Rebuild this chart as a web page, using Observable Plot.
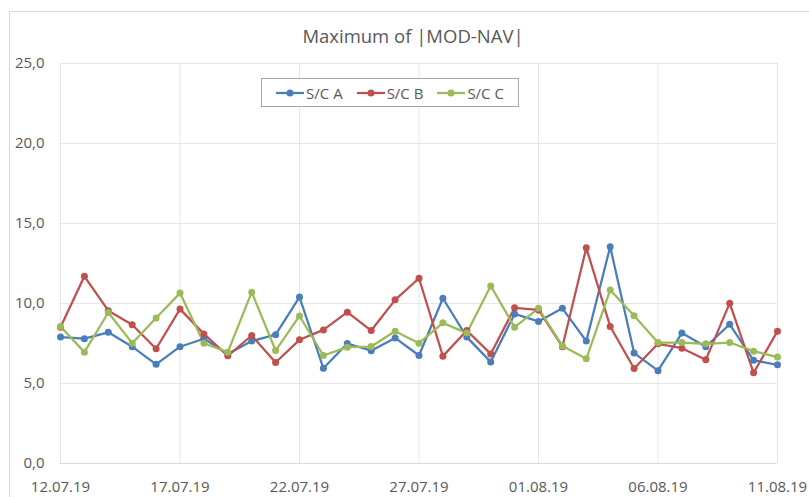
<!DOCTYPE html>
<html>
<head>
<meta charset="utf-8">
<script src="https://cdn.jsdelivr.net/npm/d3@7"></script>
<script src="https://cdn.jsdelivr.net/npm/@observablehq/plot@0.6"></script>
<style>
  html, body { margin: 0; padding: 0; background: #fff; }
  body { width: 809px; height: 497px; position: relative; overflow: hidden; font-family: "Open Sans", "Noto Sans", sans-serif; }
  #frame { position: absolute; left: 9px; top: 11px; width: 820px; height: 500px; border: 1px solid #d9d9d9; box-sizing: border-box; }
  #title { position: absolute; left: 0; width: 826px; top: 23px; text-align: center; font-size: 18.5px; color: #595959; }
  #chart { position: absolute; left: 0; top: 0; }
  #legend { position: absolute; left: 261px; top: 78px; width: 258px; height: 29px; border: 1px solid #a6a6a6; box-sizing: border-box; display: flex; align-items: center; justify-content: center; gap: 14px; font-size: 15px; color: #595959; background: #fff; }
  #legend .item { display: flex; align-items: center; gap: 2px; }
</style>
</head>
<body>
<div id="frame"></div>
<div id="chart"></div>
<div id="title">Maximum of |MOD-NAV|</div>
<div id="legend"></div>
<script>
const seriesNames = ["S/C A", "S/C B", "S/C C"];
const seriesColors = ["#4a7ebb", "#c0504d", "#9bbb59"];
const startDate = "2019-07-12";
const dayCount = 31;
const seriesA = [7.9, 7.8, 8.2, 7.3, 6.2, 7.3, 7.8, 6.85, 7.65, 8.05, 10.4, 5.95, 7.5, 7.05, 7.85, 6.75, 10.33, 7.9, 6.35, 9.35, 8.88, 9.7, 7.65, 13.55, 6.9, 5.8, 8.15, 7.3, 8.7, 6.45, 6.17];
const seriesB = [8.52, 11.7, 9.55, 8.67, 7.17, 9.65, 8.1, 6.73, 8.0, 6.31, 7.73, 8.35, 9.46, 8.31, 10.23, 11.58, 6.71, 8.31, 6.85, 9.73, 9.6, 7.3, 13.48, 8.56, 5.94, 7.48, 7.21, 6.48, 10.02, 5.67, 8.27];
const seriesC = [8.56, 6.96, 9.44, 7.52, 9.1, 10.65, 7.52, 6.96, 10.71, 7.06, 9.22, 6.75, 7.27, 7.31, 8.27, 7.52, 8.79, 8.15, 11.1, 8.52, 9.7, 7.35, 6.54, 10.85, 9.23, 7.56, 7.56, 7.48, 7.56, 7.02, 6.65];
const yTicks = [0, 5, 10, 15, 20, 25];
const xTickLabels = ["12.07.19", "17.07.19", "22.07.19", "27.07.19", "01.08.19", "06.08.19", "11.08.19"];

const parseTick = d3.utcParse("%d.%m.%y");
const xTicks = xTickLabels.map(parseTick);
const t0 = d3.utcParse("%Y-%m-%d")(startDate);
const dates = d3.range(dayCount).map(i => d3.utcDay.offset(t0, i));
const allSeries = [seriesA, seriesB, seriesC];
const data = [];
allSeries.forEach((vals, s) => vals.forEach((v, i) => data.push({date: dates[i], value: v, series: seriesNames[s]})));

const fmtY = d => d.toFixed(1).replace(".", ",");
const fmtX = d3.utcFormat("%d.%m.%y");

const chart = Plot.plot({
  width: 809,
  height: 497,
  marginTop: 63,
  marginBottom: 34,
  marginLeft: 60,
  marginRight: 32,
  style: { fontFamily: "'Open Sans', 'Noto Sans', sans-serif", fontSize: "15px", color: "#595959", background: "transparent", overflow: "visible" },
  x: { type: "utc", domain: [xTicks[0], xTicks[xTicks.length - 1]], ticks: xTicks, tickFormat: fmtX, tickSize: 0, tickPadding: 18, label: null },
  y: { domain: [0, 25], ticks: yTicks, tickFormat: fmtY, tickSize: 0, tickPadding: 16, label: null },
  color: { domain: seriesNames, range: seriesColors },
  marks: [
    Plot.ruleY(yTicks.slice(1), { stroke: "#e6e6e6", strokeWidth: 1 }),
    Plot.ruleX(xTicks, { stroke: "#e6e6e6", strokeWidth: 1 }),
    Plot.ruleY([0], { stroke: "#d9d9d9", strokeWidth: 1 }),
    Plot.line(data, { x: "date", y: "value", stroke: "series", z: "series", strokeWidth: 2.25, curve: "linear" }),
    Plot.dot(data, { x: "date", y: "value", fill: "series", r: 3.5, stroke: "none" })
  ]
});
chart.querySelectorAll("text").forEach(t => t.setAttribute("fill", "#595959"));
document.getElementById("chart").appendChild(chart);

const legend = document.getElementById("legend");
seriesNames.forEach((name, i) => {
  const item = document.createElement("div");
  item.className = "item";
  item.innerHTML = `<svg width="28" height="10"><line x1="0" y1="5" x2="28" y2="5" stroke="${seriesColors[i]}" stroke-width="2.25"/><circle cx="14" cy="5" r="3.5" fill="${seriesColors[i]}"/></svg><span>${name}</span>`;
  legend.appendChild(item);
});
</script>
</body>
</html>
